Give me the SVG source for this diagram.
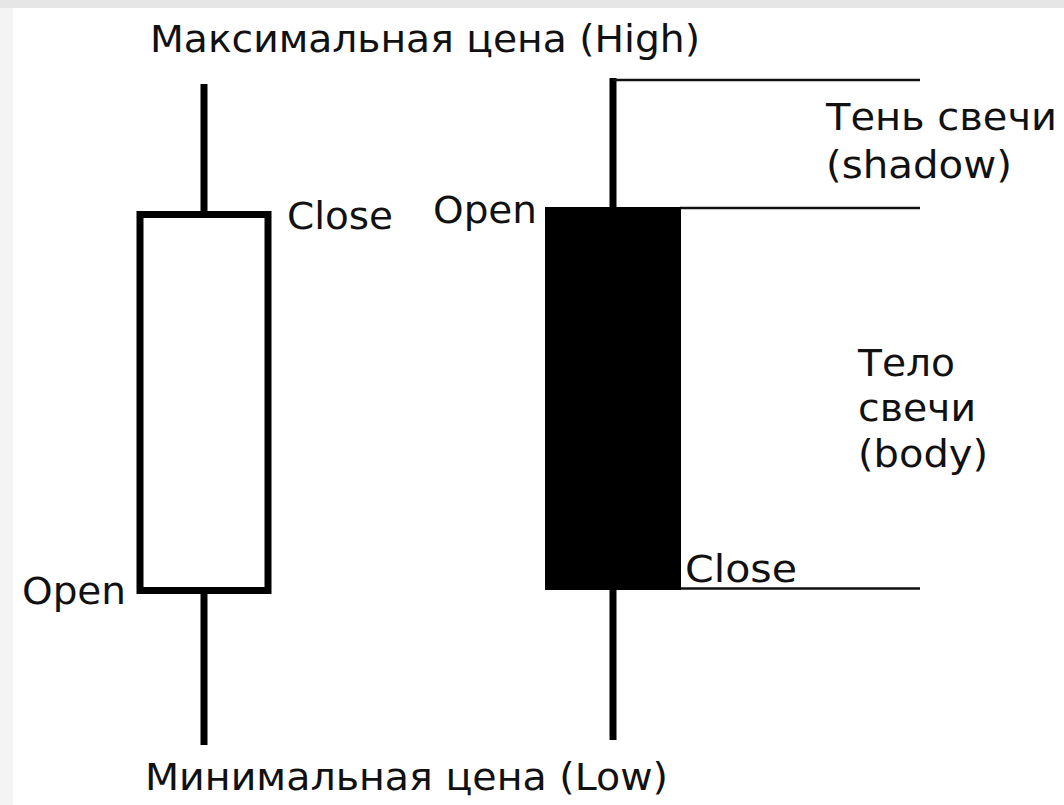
<svg xmlns="http://www.w3.org/2000/svg" width="1064" height="805" viewBox="0 0 1064 805">
<style>
text{font-family:"DejaVu Sans","Liberation Sans",sans-serif;font-size:37px;fill:#111}
.wick{stroke:#000;stroke-width:7;fill:none}
.thin{stroke:#111;stroke-width:2.5;fill:none}
</style>
<rect x="0" y="0" width="1064" height="805" fill="#fff"/>
<rect x="0" y="0" width="13" height="805" fill="#f4f4f4"/>
<rect x="0" y="0" width="1064" height="8" fill="#e6e6e6"/>
<g id="connectors">
<line class="wick" x1="204" y1="84" x2="204" y2="214"/>
<line class="wick" x1="204" y1="590" x2="204" y2="745"/>
<line class="wick" x1="613" y1="78" x2="613" y2="210"/>
<line class="wick" x1="613" y1="588" x2="613" y2="740"/>
<line class="thin" x1="613" y1="80" x2="920" y2="80"/>
<line class="thin" x1="680" y1="208" x2="920" y2="208"/>
<line class="thin" x1="680" y1="588.5" x2="920" y2="588.5"/>
</g>
<g id="bull-candle">
<rect x="140" y="214.5" width="128" height="376" fill="#fff" stroke="#000" stroke-width="7"/>
<text x="287" y="229" textLength="106" lengthAdjust="spacingAndGlyphs">Close</text>
<text x="22" y="604" textLength="104" lengthAdjust="spacingAndGlyphs">Open</text>
</g>
<g id="bear-candle">
<rect x="545" y="207" width="136" height="383" fill="#000"/>
<text x="433" y="223" textLength="104" lengthAdjust="spacingAndGlyphs">Open</text>
<text x="685" y="582" textLength="112" lengthAdjust="spacingAndGlyphs">Close</text>
</g>
<g id="high-label"><text x="150" y="52" textLength="550" lengthAdjust="spacingAndGlyphs">Максимальная цена (High)</text></g>
<g id="low-label"><text x="145" y="790" textLength="523" lengthAdjust="spacingAndGlyphs">Минимальная цена (Low)</text></g>
<g id="shadow-label">
<text x="826" y="130" textLength="231" lengthAdjust="spacingAndGlyphs">Тень свечи</text>
<text x="826" y="178" textLength="186" lengthAdjust="spacingAndGlyphs">(shadow)</text>
</g>
<g id="body-label">
<text x="858" y="376" textLength="97" lengthAdjust="spacingAndGlyphs">Тело</text>
<text x="858" y="421" textLength="118" lengthAdjust="spacingAndGlyphs">свечи</text>
<text x="858" y="467" textLength="130" lengthAdjust="spacingAndGlyphs">(body)</text>
</g>
</svg>
